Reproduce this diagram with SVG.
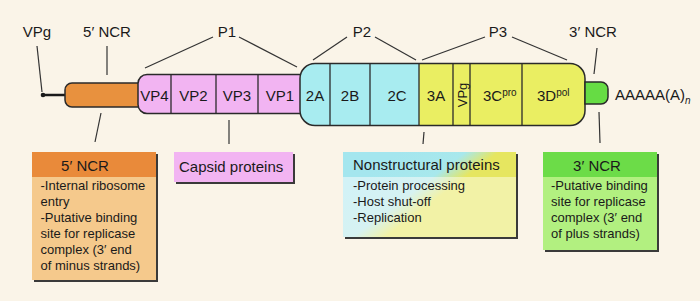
<svg xmlns="http://www.w3.org/2000/svg" width="700" height="301" viewBox="0 0 700 301">
<defs>
<style>
text{font-family:"Liberation Sans",Arial,sans-serif;fill:#1a1a1a}
.lbl{font-size:15px}
.seg{font-size:15px;text-anchor:middle}
.body{font-size:13px}
.ln{stroke:#333;stroke-width:1.2;fill:none}
.ol{stroke:#2a2a2a;stroke-width:1.5}
.div{stroke:#2a2a2a;stroke-width:1.3}
.sh{fill:#3a3a3a}
</style>
<linearGradient id="ngH" gradientUnits="userSpaceOnUse" x1="395" y1="155" x2="455" y2="235">
<stop offset="0" stop-color="#a4e6ee"/><stop offset="0.4" stop-color="#a8e8ec"/><stop offset="0.6" stop-color="#e6e660"/><stop offset="1" stop-color="#e6e660"/>
</linearGradient>
<linearGradient id="ngB" gradientUnits="userSpaceOnUse" x1="395" y1="155" x2="455" y2="235">
<stop offset="0" stop-color="#d2f2f6"/><stop offset="0.4" stop-color="#d6f2f2"/><stop offset="0.6" stop-color="#f2f2a6"/><stop offset="1" stop-color="#f2f2a6"/>
</linearGradient>
</defs>
<rect width="700" height="301" fill="#faf4e8"/>

<g id="connectors">
<line class="ln" x1="37" y1="46" x2="42" y2="92"/>
<line class="ln" x1="107" y1="46" x2="107" y2="75"/>
<line class="ln" x1="213" y1="37" x2="145" y2="68"/>
<line class="ln" x1="239" y1="37" x2="297" y2="67"/>
<line class="ln" x1="347" y1="37" x2="313" y2="60"/>
<line class="ln" x1="375" y1="37" x2="416" y2="60"/>
<line class="ln" x1="485" y1="37" x2="422" y2="60"/>
<line class="ln" x1="512" y1="37" x2="567" y2="60"/>
<line class="ln" x1="597" y1="48" x2="594" y2="74"/>
<line class="ln" x1="101" y1="113" x2="95" y2="142"/>
<line class="ln" x1="229" y1="120" x2="229" y2="144"/>
<line class="ln" x1="424" y1="132" x2="423" y2="144"/>
<line class="ln" x1="599" y1="112" x2="600" y2="143"/>
</g>

<g id="labels">
<text class="lbl" x="37" y="37" text-anchor="middle">VPg</text>
<text class="lbl" x="107" y="37" text-anchor="middle">5′ NCR</text>
<text class="lbl" x="227" y="37" text-anchor="middle">P1</text>
<text class="lbl" x="362" y="37" text-anchor="middle">P2</text>
<text class="lbl" x="498" y="37" text-anchor="middle">P3</text>
<text class="lbl" x="593" y="37" text-anchor="middle">3′ NCR</text>
</g>

<g id="vpg-tail">
<line x1="43" y1="95" x2="66" y2="95" stroke="#1a1a1a" stroke-width="2.5"/>
<circle cx="43" cy="95" r="2.3" fill="#1a1a1a"/>
</g>

<g id="ncr5">
<path class="ol" d="M72 83 H140 V107 H72 A7 7 0 0 1 65 100 V90 A7 7 0 0 1 72 83 Z" fill="#e8913e"/>
</g>

<g id="p1">
<path class="ol" d="M147 74.5 H305 V113.5 H147 A9 9 0 0 1 138 104.5 V83.5 A9 9 0 0 1 147 74.5 Z" fill="#f2b4f2"/>
<line class="div" x1="171" y1="74.5" x2="171" y2="113.5"/>
<line class="div" x1="216" y1="74.5" x2="216" y2="113.5"/>
<line class="div" x1="258" y1="74.5" x2="258" y2="113.5"/>
<text class="seg" x="154.5" y="101">VP4</text>
<text class="seg" x="193.5" y="101">VP2</text>
<text class="seg" x="237" y="101">VP3</text>
<text class="seg" x="280" y="101">VP1</text>
</g>

<g id="p2p3">
<path d="M419 63.5 H570 A15 15 0 0 1 585 78.5 V110.5 A15 15 0 0 1 570 125.5 H419 Z" fill="#eaee62"/>
<path d="M315 63.5 H419 V125.5 H315 A15 15 0 0 1 300 110.5 V78.5 A15 15 0 0 1 315 63.5 Z" fill="#a8ecf0"/>
<path class="ol" fill="none" d="M315 63.5 H570 A15 15 0 0 1 585 78.5 V110.5 A15 15 0 0 1 570 125.5 H315 A15 15 0 0 1 300 110.5 V78.5 A15 15 0 0 1 315 63.5 Z"/>
<line class="div" x1="330" y1="63.5" x2="330" y2="125.5"/>
<line class="div" x1="370" y1="63.5" x2="370" y2="125.5"/>
<line class="div" x1="419" y1="63.5" x2="419" y2="125.5"/>
<line class="div" x1="453" y1="63.5" x2="453" y2="125.5"/>
<line class="div" x1="470" y1="63.5" x2="470" y2="125.5"/>
<line class="div" x1="522" y1="63.5" x2="522" y2="125.5"/>
<text class="seg" x="315" y="101">2A</text>
<text class="seg" x="350" y="101">2B</text>
<text class="seg" x="397" y="101">2C</text>
<text class="seg" x="436" y="101">3A</text>
<text class="seg" x="0" y="0" style="font-size:13px" transform="translate(466.5 95) rotate(-90)">VPg</text>
<text x="483" y="101" style="font-size:15px">3C<tspan style="font-size:10px" dy="-5">pro</tspan></text>
<text x="537" y="101" style="font-size:15px">3D<tspan style="font-size:10px" dy="-5">pol</tspan></text>
</g>

<g id="ncr3">
<path class="ol" d="M585 82 H601 A7 7 0 0 1 608 89 V97 A7 7 0 0 1 601 104 H585 Z" fill="#66dc44"/>
<text class="lbl" x="615" y="100">AAAAA(A)<tspan style="font-size:10px;font-style:italic" dy="4">n</tspan></text>
</g>

<g id="box-5ncr">
<rect class="sh" x="34" y="154" width="124" height="128"/>
<rect x="32" y="152" width="124" height="128" fill="#f5c98c"/>
<rect x="32" y="152" width="124" height="25" fill="#e98a3a"/>
<text class="lbl" x="85" y="171" text-anchor="middle">5′ NCR</text>
<text class="body" x="40.5" y="190">-Internal ribosome</text>
<text class="body" x="40.5" y="206">entry</text>
<text class="body" x="40.5" y="222">-Putative binding</text>
<text class="body" x="40.5" y="238">site for replicase</text>
<text class="body" x="40.5" y="254">complex (3′ end</text>
<text class="body" x="40.5" y="270">of minus strands)</text>
</g>

<g id="box-capsid">
<rect class="sh" x="176" y="154" width="119" height="30"/>
<rect x="174" y="152" width="119" height="30" fill="#f2b4f2"/>
<text class="lbl" x="179" y="172">Capsid proteins</text>
</g>

<g id="box-nonstruct">
<rect class="sh" x="345" y="154" width="173" height="85"/>
<rect x="343" y="152" width="173" height="85" fill="url(#ngB)"/>
<rect x="343" y="152" width="173" height="25" fill="url(#ngH)"/>
<text class="lbl" x="353" y="170">Nonstructural proteins</text>
<text class="body" x="353" y="190">-Protein processing</text>
<text class="body" x="353" y="206">-Host shut-off</text>
<text class="body" x="353" y="222">-Replication</text>
</g>

<g id="box-3ncr">
<rect class="sh" x="545" y="154" width="114" height="98"/>
<rect x="543" y="152" width="114" height="98" fill="#b2f080"/>
<rect x="543" y="152" width="114" height="25" fill="#6cdc48"/>
<text class="lbl" x="597" y="171" text-anchor="middle">3′ NCR</text>
<text class="body" x="551" y="190">-Putative binding</text>
<text class="body" x="551" y="206">site for replicase</text>
<text class="body" x="551" y="222">complex (3′ end</text>
<text class="body" x="551" y="238">of plus strands)</text>
</g>
</svg>
